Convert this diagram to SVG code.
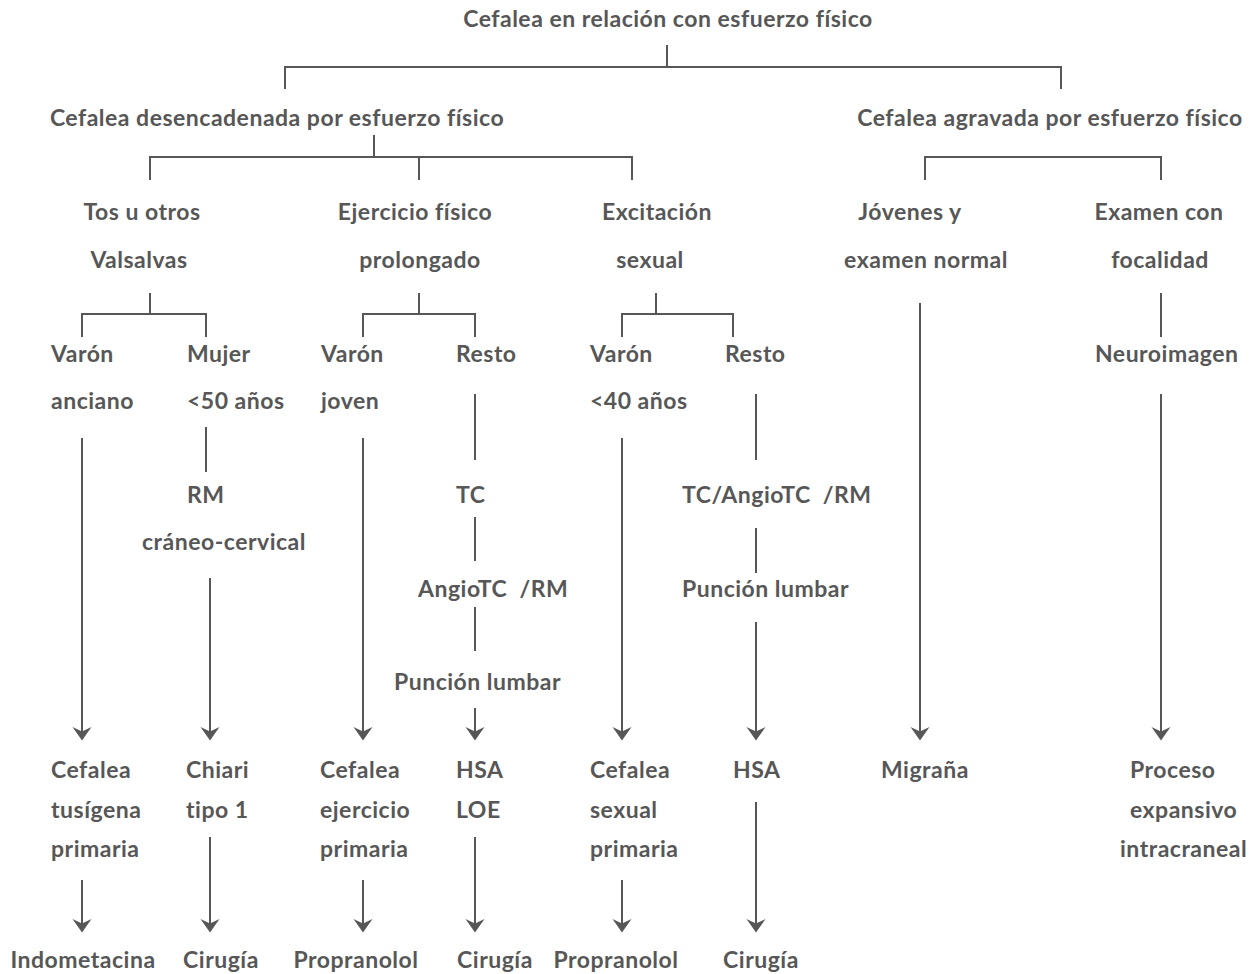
<svg xmlns="http://www.w3.org/2000/svg" width="1257" height="974" viewBox="0 0 1257 974">
<style>
text{font-family:Lato,"Noto Sans","Liberation Sans",sans-serif;font-weight:700;font-size:23px;letter-spacing:0.5px;fill:#575757;white-space:pre}
.m{text-anchor:middle}
.c{fill:none;stroke:#575757;stroke-width:2}
</style>
<defs>
<marker id="ah" viewBox="-6 -10 15 20" refX="0" refY="0" markerWidth="15" markerHeight="20" markerUnits="userSpaceOnUse" orient="auto">
<path d="M8.5,0 L-5,-9.5 L-0.5,0 L-5,9.5 Z" fill="#575757"/>
</marker>
</defs>
<rect width="1257" height="974" fill="#ffffff"/>
<g id="connectors" class="c">
<path d="M667,45V67 M285,89V67H1061V89"/>
<path d="M374,135V157 M150,180V157H632V180 M419,157V180"/>
<path d="M925,180V157H1161V180"/>
<path d="M150,293V314 M82,337V314H206V337"/>
<path d="M419,293V314 M363,337V314H475V337"/>
<path d="M656,293V314 M622,337V314H733V337"/>
<path d="M1161,293V337"/>
<path d="M206,427V472"/>
<path d="M475,394V460 M475,517V561 M475,607V651"/>
<path d="M756,394V460 M756,528V573"/>
<path d="M82,438V732" marker-end="url(#ah)"/>
<path d="M210,578V732" marker-end="url(#ah)"/>
<path d="M363,438V732" marker-end="url(#ah)"/>
<path d="M475,708V732" marker-end="url(#ah)"/>
<path d="M622,438V732" marker-end="url(#ah)"/>
<path d="M756,622V732" marker-end="url(#ah)"/>
<path d="M920,303V732" marker-end="url(#ah)"/>
<path d="M1161,394V732" marker-end="url(#ah)"/>
<path d="M82,880V924" marker-end="url(#ah)"/>
<path d="M210,837V924" marker-end="url(#ah)"/>
<path d="M363,880V924" marker-end="url(#ah)"/>
<path d="M475,837V924" marker-end="url(#ah)"/>
<path d="M622,880V924" marker-end="url(#ah)"/>
<path d="M756,802V924" marker-end="url(#ah)"/>
</g>
<g id="n0"><text class="m" x="668" y="27">Cefalea en relación con esfuerzo físico</text></g>
<g id="n1"><text class="m" x="277" y="126">Cefalea desencadenada por esfuerzo físico</text></g>
<g id="n2"><text class="m" x="1050" y="126">Cefalea agravada por esfuerzo físico</text></g>
<g id="n3"><text class="m" x="142" y="220">Tos u otros</text><text class="m" x="139" y="268">Valsalvas</text></g>
<g id="n4"><text class="m" x="415" y="220">Ejercicio físico</text><text class="m" x="420" y="268">prolongado</text></g>
<g id="n5"><text class="m" x="657" y="220">Excitación</text><text class="m" x="650" y="268">sexual</text></g>
<g id="n6"><text class="m" x="910" y="220">Jóvenes y</text><text class="m" x="926" y="268">examen normal</text></g>
<g id="n7"><text class="m" x="1159" y="220">Examen con</text><text class="m" x="1160" y="268">focalidad</text></g>
<g id="n8"><text x="51" y="362">Varón</text><text x="51" y="409">anciano</text></g>
<g id="n9"><text x="187" y="362">Mujer</text><text x="187" y="409">&lt;50 años</text></g>
<g id="n10"><text x="321" y="362">Varón</text><text x="321" y="409">joven</text></g>
<g id="n11"><text x="456" y="362">Resto</text></g>
<g id="n12"><text x="590" y="362">Varón</text><text x="590" y="409">&lt;40 años</text></g>
<g id="n13"><text x="725" y="362">Resto</text></g>
<g id="n14"><text x="1095" y="362">Neuroimagen</text></g>
<g id="n15"><text x="187" y="503">RM</text><text class="m" x="224" y="550">cráneo-cervical</text></g>
<g id="n16"><text x="456" y="503">TC</text></g>
<g id="n17"><text x="418" y="597">AngioTC  /RM</text></g>
<g id="n18"><text x="394" y="690">Punción lumbar</text></g>
<g id="n19"><text x="682" y="503">TC/AngioTC  /RM</text></g>
<g id="n20"><text x="682" y="597">Punción lumbar</text></g>
<g id="n21"><text x="51" y="778">Cefalea</text><text x="51" y="818">tusígena</text><text x="51" y="857">primaria</text></g>
<g id="n22"><text x="186" y="778">Chiari</text><text x="186" y="818">tipo 1</text></g>
<g id="n23"><text x="320" y="778">Cefalea</text><text x="320" y="818">ejercicio</text><text x="320" y="857">primaria</text></g>
<g id="n24"><text x="456" y="778">HSA</text><text x="456" y="818">LOE</text></g>
<g id="n25"><text x="590" y="778">Cefalea</text><text x="590" y="818">sexual</text><text x="590" y="857">primaria</text></g>
<g id="n26"><text x="733" y="778">HSA</text></g>
<g id="n27"><text x="881" y="778">Migraña</text></g>
<g id="n28"><text x="1130" y="778">Proceso</text><text x="1130" y="818">expansivo</text><text x="1120" y="857">intracraneal</text></g>
<g id="n29"><text class="m" x="83" y="968">Indometacina</text></g>
<g id="n30"><text class="m" x="221" y="968">Cirugía</text></g>
<g id="n31"><text class="m" x="356" y="968">Propranolol</text></g>
<g id="n32"><text class="m" x="495" y="968">Cirugía</text></g>
<g id="n33"><text class="m" x="616" y="968">Propranolol</text></g>
<g id="n34"><text class="m" x="761" y="968">Cirugía</text></g>
</svg>
